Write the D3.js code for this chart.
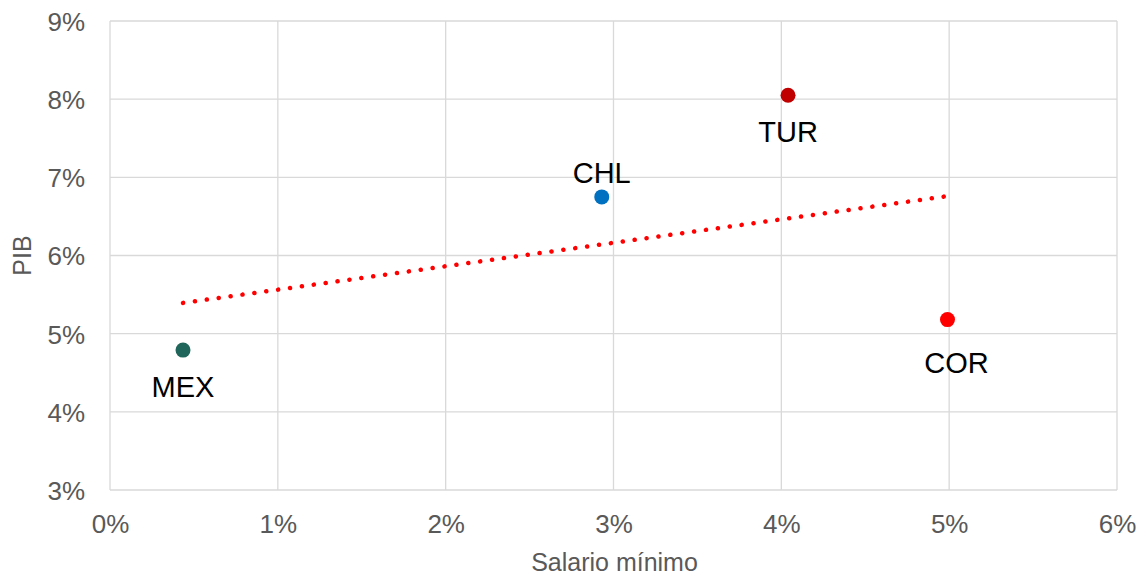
<!DOCTYPE html>
<html lang="es">
<head>
  <meta charset="UTF-8" />
  <title>PIB vs Salario mínimo</title>
  <style>
    body { margin: 0; background: #fff; font-family: "Liberation Sans", Arial, sans-serif; }
    .grid line { stroke: #d9d9d9; stroke-width: 1.3; }
    .tick text { fill: #595959; font-size: 26px; }
  </style>
</head>
<body>
<div id="chart"></div>
<script src="https://cdnjs.cloudflare.com/ajax/libs/d3/7.8.4/d3.min.js"></script>
<script>
  // data (percent)
  const countries = ["MEX", "CHL", "TUR", "COR"];
  const salario = [0.435, 2.93, 4.04, 4.99];
  const pib = [4.79, 6.75, 8.05, 5.18];
  const dotColors = ["#21665a", "#0070c0", "#c00000", "#ff0000"];
  const labelSide = ["below", "above", "below", "below"];
  const xTicks = [0, 1, 2, 3, 4, 5, 6];
  const yTicks = [3, 4, 5, 6, 7, 8, 9];

  const width = 1143, height = 577;
  const margin = { left: 110, right: 26, top: 21, bottom: 87 };

  const svg = d3.select("#chart").append("svg").attr("width", width).attr("height", height);

  const x = d3.scaleLinear().domain([0, 6]).range([margin.left, width - margin.right]);
  const y = d3.scaleLinear().domain([3, 9]).range([height - margin.bottom, margin.top]);

  // gridlines
  const grid = svg.append("g").attr("class", "grid");
  grid.selectAll(".vx").data(xTicks).enter().append("line")
    .attr("x1", d => x(d)).attr("x2", d => x(d))
    .attr("y1", y(3)).attr("y2", y(9));
  grid.selectAll(".hy").data(yTicks).enter().append("line")
    .attr("x1", x(0)).attr("x2", x(6))
    .attr("y1", d => y(d)).attr("y2", d => y(d));

  // axes (labels only)
  const xAxis = svg.append("g")
    .attr("transform", `translate(0,${y(3)})`)
    .call(d3.axisBottom(x).tickValues(xTicks).tickFormat(d => d + "%").tickSize(0).tickPadding(25));
  xAxis.select(".domain").remove();

  const yAxis = svg.append("g")
    .attr("transform", `translate(${x(0)},0)`)
    .call(d3.axisLeft(y).tickValues(yTicks).tickFormat(d => d + "%").tickSize(0).tickPadding(25));
  yAxis.select(".domain").remove();
  yAxis.selectAll(".tick text").attr("dy", "0.36em");

  // axis titles
  svg.append("text")
    .attr("x", (x(0) + x(6)) / 2 + 1).attr("y", 571)
    .attr("text-anchor", "middle")
    .attr("fill", "#595959").style("font-size", "25px")
    .text("Salario mínimo");
  svg.append("text")
    .attr("transform", `translate(31,${(y(3) + y(9)) / 2}) rotate(-90)`)
    .attr("text-anchor", "middle")
    .attr("fill", "#595959").style("font-size", "25px")
    .text("PIB");

  // linear trend line
  const mx = d3.mean(salario), my = d3.mean(pib);
  const slope = d3.sum(salario, (v, i) => (v - mx) * (pib[i] - my)) /
                d3.sum(salario, v => (v - mx) * (v - mx));
  const icpt = my - slope * mx;
  const [x0, x1] = d3.extent(salario);
  svg.append("line")
    .attr("x1", x(x0)).attr("y1", y(icpt + slope * x0))
    .attr("x2", x(x1)).attr("y2", y(icpt + slope * x1))
    .attr("stroke", "#ff0000").attr("stroke-width", 4.5)
    .attr("stroke-linecap", "round").attr("stroke-dasharray", "0.1 11.9");

  // points
  const pts = countries.map((c, i) => ({ c, sx: salario[i], py: pib[i], col: dotColors[i], side: labelSide[i] }));
  svg.append("g").selectAll("circle").data(pts).enter().append("circle")
    .attr("cx", d => x(d.sx)).attr("cy", d => y(d.py))
    .attr("r", 7.5).attr("fill", d => d.col);

  svg.append("g").selectAll("text").data(pts).enter().append("text")
    .attr("x", d => x(d.sx) + (d.c === "COR" ? 9 : 0))
    .attr("y", d => y(d.py) + (d.side === "below" ? (d.c === "COR" ? 53 : 47) : -14))
    .attr("text-anchor", "middle")
    .attr("fill", "#000").style("font-size", "29px")
    .text(d => d.c);
</script>
</body>
</html>
